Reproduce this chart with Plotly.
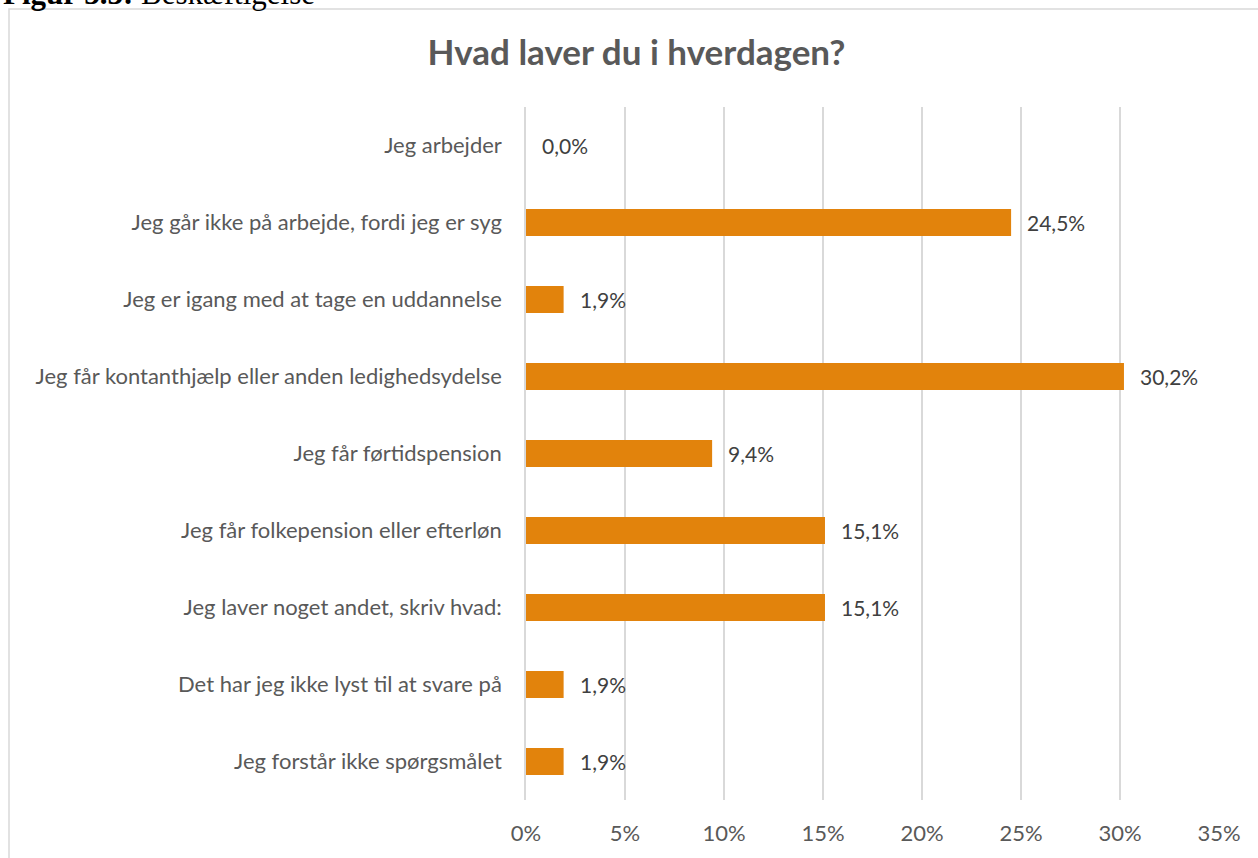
import plotly.graph_objects as go

categories = [
    "Jeg arbejder",
    "Jeg går ikke på arbejde, fordi jeg er syg",
    "Jeg er igang med at tage en uddannelse",
    "Jeg får kontanthjælp eller anden ledighedsydelse",
    "Jeg får førtidspension",
    "Jeg får folkepension eller efterløn",
    "Jeg laver noget andet, skriv hvad:",
    "Det har jeg ikke lyst til at svare på",
    "Jeg forstår ikke spørgsmålet",
]
values = [0.0, 24.5, 1.9, 30.2, 9.4, 15.1, 15.1, 1.9, 1.9]
labels = [f"{v:.1f}%".replace(".", ",") for v in values]
tick_vals = [0, 5, 10, 15, 20, 25, 30, 35]
tick_text = [f"{t}%" for t in tick_vals]

FONT = "Lato"
W, H = 1258, 858
L, R, T, B = 526, 39, 107, 55
pw, ph = W - L - R, H - T - B

def px_x(x):
    return (x - L) / pw

def px_y(y):
    return (H - B - y) / ph

fig = go.Figure(go.Bar(
    x=values, y=categories, orientation="h",
    marker=dict(color="#E2830C", line=dict(width=0)),
    width=0.35,
    hoverinfo="x+y",
))

annotations = [
    dict(x=v, y=c, xref="x", yref="y", text=t, showarrow=False,
         xanchor="left", yanchor="middle", xshift=14,
         font=dict(family=FONT, size=21, color="#404040"))
    for c, v, t in zip(categories, values, labels)
]
annotations.append(dict(text="<b>Figur 3.3:</b> Beskæftigelse", xref="paper", yref="paper",
                        x=px_x(1), y=px_y(13), xanchor="left", yanchor="bottom",
                        showarrow=False,
                        font=dict(family="Liberation Serif", size=31, color="black")))

fig.update_layout(
    width=W, height=H,
    margin=dict(l=L, r=R, t=T, b=B),
    paper_bgcolor="white", plot_bgcolor="white",
    showlegend=False,
    title=dict(text="<b>Hvad laver du i hverdagen?</b>", xref="container", x=636.5 / W, xanchor="center",
               yref="container", y=1 - 53 / H, yanchor="middle",
               font=dict(family=FONT, size=35, color="#595959")),
    xaxis=dict(range=[0, 35], tickvals=tick_vals, ticktext=tick_text,
               showgrid=True, gridcolor="#D9D9D9", gridwidth=1.5,
               zeroline=False, showline=False, ticks="",
               ticklabelstandoff=18,
               tickfont=dict(family=FONT, size=22, color="#595959")),
    yaxis=dict(categoryorder="array", categoryarray=categories[::-1],
               autorange=False, range=[-0.5, len(categories) - 0.5],
               showgrid=False, zeroline=False, showline=True, linecolor="#D9D9D9", linewidth=1.5,
               ticks="", ticklabelstandoff=18,
               tickfont=dict(family=FONT, size=22, color="#595959")),
    shapes=[dict(type="rect", xref="paper", yref="paper",
                 x0=px_x(9), x1=px_x(1270), y0=px_y(880), y1=px_y(8.5),
                 line=dict(color="#D9D9D9", width=1.5), fillcolor="rgba(0,0,0,0)", layer="below")],
    annotations=annotations,
)

fig.write_html("out.html", config={"displayModeBar": False},
               post_script="document.body.style.margin='0';document.body.style.overflow='hidden';")
